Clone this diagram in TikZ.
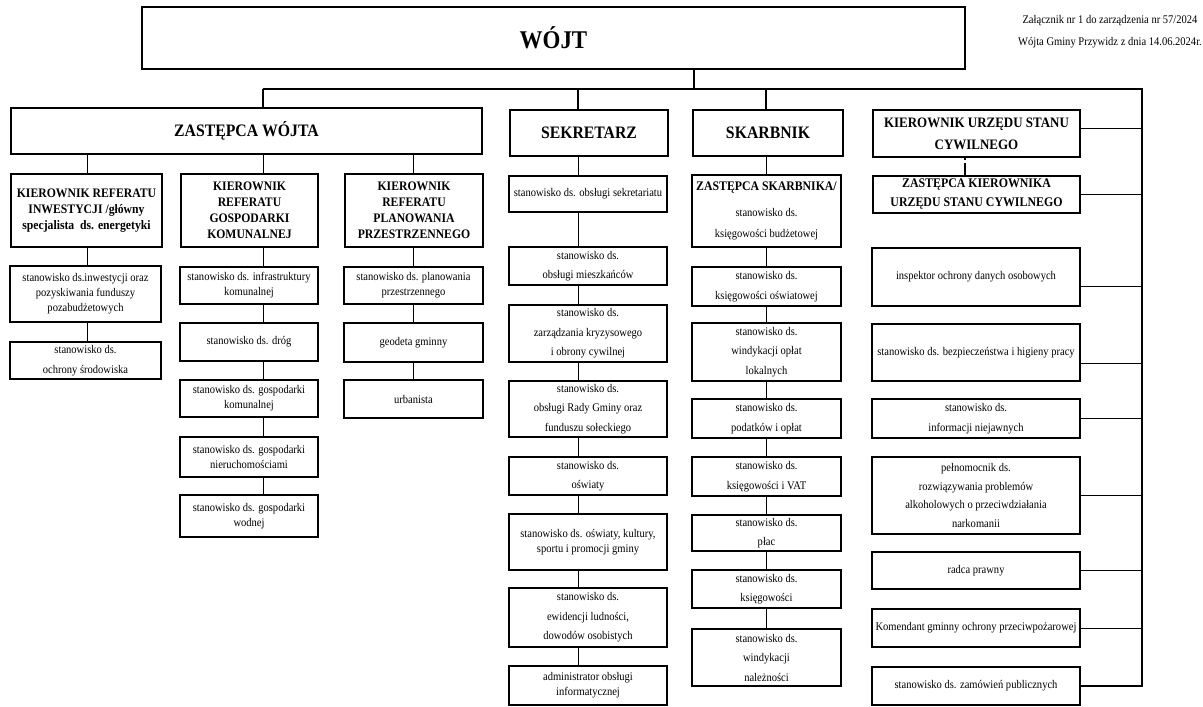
\documentclass[tikz,border=0pt]{standalone}
\usepackage{fontspec}
\setmainfont{Liberation Serif}[FakeStretch=0.9]
\def\orgbox[#1](#2)(#3,#4)(#5,#6)#7{\node[#1, anchor=north west, minimum width={#5pt-#3pt}, minimum height={#6pt-#4pt}] (#2) at (#3,#4) {#7};}
\tikzset{
	staff/.style={draw, line width=1.1pt, align=center, inner sep=1pt, outer sep=0pt, font=\fontsize{11.7}{15}\selectfont},
	loose/.style={staff, font=\fontsize{11.7}{19.5}\selectfont},
	head/.style={draw, line width=1.8pt, align=center, inner sep=1pt, outer sep=0pt, font=\bfseries\fontsize{17.5}{19}\selectfont},
	chief/.style={head, font=\bfseries\fontsize{13}{16}\selectfont},
	deputy/.style={staff, line width=1.3pt},
	note/.style={align=center, inner sep=0pt, font=\fontsize{11.7}{22}\selectfont},
	link/.style={line width=0.9pt},
	bus/.style={line width=1.1pt}
}

\begin{document}
\begin{tikzpicture}[x=1pt, y=-1pt]
			%%%%% START %%%%%
			\useasboundingbox (0,0) rectangle (1203,707);
			
			\node[note, anchor=north east] (zal) at (1202,15) {Załącznik nr 1 do zarządzenia nr 57/2024\\Wójta Gminy Przywidz z dnia 14.06.2024r.};
			
			\orgbox[head, line width=2pt, font=\bfseries\fontsize{25.5}{26}\selectfont](wojt)(142,7)(965,69){WÓJT}
			\orgbox[head](zast)(11,108)(482,154){ZASTĘPCA WÓJTA}
			\orgbox[head](sekr)(510,110)(668,156){SEKRETARZ}
			\orgbox[head](skarb)(693,110)(843,156){SKARBNIK}
			\orgbox[deputy, font=\bfseries\fontsize{14.4}{22}\selectfont](kusc)(873,110)(1080,157){KIEROWNIK URZĘDU STANU\\CYWILNEGO}
			\orgbox[deputy, font=\bfseries\fontsize{13.2}{19}\selectfont](zkusc)(873,176)(1080,213){ZASTĘPCA KIEROWNIKA\\URZĘDU STANU CYWILNEGO}
			
			\orgbox[chief](kri)(11,174)(162,247){KIEROWNIK REFERATU\\INWESTYCJI /główny\\specjalista\ \ ds. energetyki}
			\orgbox[chief](krg)(181,174)(318,247){KIEROWNIK\\REFERATU\\GOSPODARKI\\KOMUNALNEJ}
			\orgbox[chief](krp)(345,174)(483,247){KIEROWNIK\\REFERATU\\PLANOWANIA\\PRZESTRZENNEGO}
			
			\orgbox[staff](inw)(10,266)(161,322){stanowisko ds.inwestycji oraz\\pozyskiwania funduszy\\pozabudżetowych}
			\orgbox[loose](ochr)(10,342)(161,379){stanowisko ds.\\ochrony środowiska}
			
			\orgbox[staff](infra)(180,267)(318,304){stanowisko ds. infrastruktury\\komunalnej}
			\orgbox[staff](drog)(180,323)(318,361){stanowisko ds. dróg}
			\orgbox[staff](gkom)(180,380)(318,417){stanowisko ds. gospodarki\\komunalnej}
			\orgbox[staff](nier)(180,437)(318,477){stanowisko ds. gospodarki\\nieruchomościami}
			\orgbox[staff](wod)(180,495)(318,537){stanowisko ds. gospodarki\\wodnej}
			
			\orgbox[staff](plan)(344,267)(483,304){stanowisko ds. planowania\\przestrzennego}
			\orgbox[staff](geod)(344,323)(483,362){geodeta gminny}
			\orgbox[staff](urb)(344,380)(483,418){urbanista}
			
			\orgbox[staff](s1)(509,176)(667,212){stanowisko ds. obsługi sekretariatu}
			\orgbox[loose](s2)(509,247)(667,285){stanowisko ds.\\obsługi mieszkańców}
			\orgbox[loose](s3)(509,305)(667,362){stanowisko ds.\\zarządzania kryzysowego\\i obrony cywilnej}
			\orgbox[loose](s4)(509,381)(667,437){stanowisko ds.\\obsługi Rady Gminy oraz\\funduszu sołeckiego}
			\orgbox[loose](s5)(509,457)(667,495){stanowisko ds.\\oświaty}
			\orgbox[staff](s6)(509,514)(667,570){stanowisko ds. oświaty, kultury,\\sportu i promocji gminy}
			\orgbox[loose](s7)(509,588)(667,647){stanowisko ds.\\ewidencji ludności,\\dowodów osobistych}
			\orgbox[staff](s8)(509,666)(667,705){administrator obsługi\\informatycznej}
			
			\orgbox[deputy, font=\fontsize{11.7}{21}\selectfont](k1)(692,175)(841,247){{\bfseries\fontsize{13.1}{21}\selectfont ZASTĘPCA SKARBNIKA/}\\[5pt]stanowisko ds.\\księgowości budżetowej}
			\orgbox[loose](k2)(692,267)(841,306){stanowisko ds.\\księgowości oświatowej}
			\orgbox[loose](k3)(692,323)(841,381){stanowisko ds.\\windykacji opłat\\lokalnych}
			\orgbox[loose](k4)(692,399)(841,438){stanowisko ds.\\podatków i opłat}
			\orgbox[loose](k5)(692,457)(841,496){stanowisko ds.\\księgowości i VAT}
			\orgbox[loose](k6)(692,515)(841,551){stanowisko ds.\\płac}
			\orgbox[loose](k7)(692,570)(841,608){stanowisko ds.\\księgowości}
			\orgbox[loose](k8)(692,629)(841,686){stanowisko ds.\\windykacji\\należności}
			
			\orgbox[staff](iod)(872,248)(1080,306){inspektor ochrony danych osobowych}
			\orgbox[staff](bhp)(872,324)(1080,381){stanowisko ds. bezpieczeństwa i higieny pracy}
			\orgbox[loose](inf)(872,399)(1080,438){stanowisko ds.\\informacji niejawnych}
			\orgbox[loose, font=\fontsize{11.7}{18.5}\selectfont](pel)(872,457)(1080,534){pełnomocnik ds.\\rozwiązywania problemów\\alkoholowych o przeciwdziałania\\narkomanii}
			\orgbox[staff](radca)(872,552)(1080,589){radca prawny}
			\orgbox[staff](kom)(872,609)(1080,647){Komendant gminny ochrony przeciwpożarowej}
			\orgbox[staff](zam)(872,667)(1080,705){stanowisko ds. zamówień publicznych}
			
			% lines
			\coordinate (tap) at (694,89);
			\coordinate (c1) at (87,0);
			\coordinate (c2) at (263,0);
			\coordinate (c3) at (413,0);
			\coordinate (c4) at (578,0);
			\coordinate (c5) at (766,0);
			\coordinate (c6) at (965,0);
			\coordinate (rail) at (1142,89);
			
			\draw[bus] (wojt.south -| tap) -- (tap);
			\draw[bus] (c2 |- tap) -- (rail) |- (zam.east);
			\foreach \b/\c in {zast/c2, sekr/c4, skarb/c5}
				\draw[bus] (\c |- tap) -- (\b.north -| \c);
			\foreach \b/\c in {kri/c1, krg/c2, krp/c3}
				\draw[link] (zast.south -| \c) -- (\b.north -| \c);
			\foreach \a/\b/\c in {kri/inw/c1, inw/ochr/c1, krg/infra/c2, infra/drog/c2, drog/gkom/c2, gkom/nier/c2, nier/wod/c2, krp/plan/c3, plan/geod/c3, geod/urb/c3, sekr/s1/c4, s1/s2/c4, s2/s3/c4, s3/s4/c4, s4/s5/c4, s5/s6/c4, s6/s7/c4, s7/s8/c4, skarb/k1/c5, k1/k2/c5, k2/k3/c5, k3/k4/c5, k4/k5/c5, k5/k6/c5, k6/k7/c5, k7/k8/c5}
				\draw[link] (\a.south -| \c) -- (\b.north -| \c);
			\foreach \b/\s in {kusc/5.5, zkusc/0, iod/-9, bhp/-10.5, inf/0, pel/0, radca/0, kom/0}
				\draw[link] ([yshift=\s pt]\b.east) -- ([yshift=\s pt]\b.east -| rail);
			\draw[line width=2pt, dash pattern=on 3pt off 3pt on 20pt] (kusc.south -| c6) -- (zkusc.north -| c6);
			
			%%%%% END %%%%%
\end{tikzpicture}
\end{document}
